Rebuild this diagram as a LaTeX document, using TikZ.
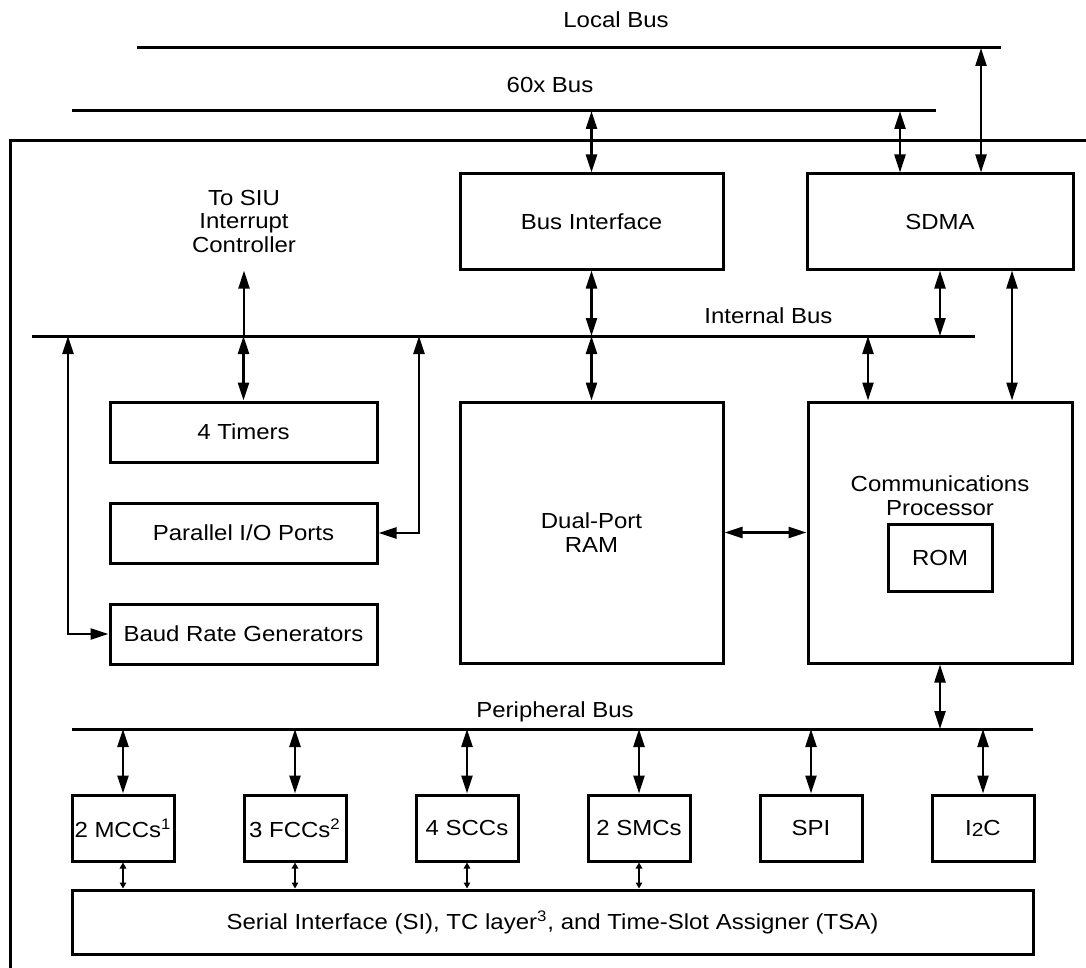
\documentclass[tikz,border=0pt]{standalone}
\usepackage{fontspec}
\setmainfont{Liberation Sans}[FakeStretch=1.1]
\usetikzlibrary{positioning,arrows.meta}
\tikzset{
  blk/.style={draw, line width=1.5pt, align=center, inner sep=0pt},
  bus/.style={line width=1.5pt},
  lbl/.style={align=center, inner sep=0pt},
  arr/.style={{Triangle[length=9pt,width=5.5pt]}-{Triangle[length=9pt,width=5.5pt]}, line width=1.15pt},
  uarr/.style={-{Triangle[length=9pt,width=5.5pt]}, line width=1.15pt},
  sarr/.style={{Triangle[length=3pt,width=3.2pt]}-{Triangle[length=3pt,width=3.2pt]}, line width=0.9pt},
}

\begin{document}
\begin{tikzpicture}[x=0.5pt, y=-0.5pt, font=\fontsize{10.9}{11.75}\selectfont]
  \useasboundingbox (0,0) rectangle (1086,968);

  % buses
  \coordinate (lb-w) at (137,48);  \coordinate (lb-e) at (1001,48);
  \coordinate (xb-w) at (72,111);  \coordinate (xb-e) at (936,111);
  \coordinate (ib-w) at (32,336);  \coordinate (ib-e) at (975,336);
  \coordinate (pb-w) at (72,729);  \coordinate (pb-e) at (1033,729);
  \draw[bus] (lb-w) -- (lb-e);
  \draw[bus] (xb-w) -- (xb-e);
  \draw[bus] (ib-w) -- (ib-e);
  \draw[bus] (pb-w) -- (pb-e);
  \node[lbl] (lbl-lb) at (616,20) {Local Bus};
  \node[lbl] (lbl-xb) at (550,85) {60x Bus};
  \node[lbl, anchor=base west] (lbl-ib) at (704,323) {Internal Bus};
  \node[lbl, anchor=base west] (lbl-pb) at (476,717) {Peripheral Bus};

  \draw[bus] (1086,141) -- (10,141) -- (10,968);

  \node[blk, minimum width=131.5pt, minimum height=47.5pt] (bi) at (591.5,221.5) {Bus Interface};
  \node[blk, minimum width=133pt, minimum height=47.5pt] (sdma) at (940,221.5) {SDMA};
  \node[lbl, inner ysep=9pt] (siu) at (244,221) {To SIU\\Interrupt\\Controller};

  \node[blk, minimum width=133.5pt, minimum height=30pt] (tmr) at (243.5,432) {4 Timers};
  \node[blk, minimum width=133.5pt, minimum height=30pt, below=19pt of tmr] (pio) {Parallel I/O Ports};
  \node[blk, minimum width=133.5pt, minimum height=30pt, below=19pt of pio] (brg) {Baud Rate Generators};

  \node[blk, minimum width=131.5pt, minimum height=130.5pt] (dpr) at (591.5,532.5) {Dual-Port\\RAM};
  \node[blk, minimum width=132pt, minimum height=130.5pt] (cp) at (940,532.5) {};
  \node[lbl] (cptxt) at (940,495.5) {Communications\\Processor};
  \node[blk, minimum width=52pt, minimum height=33.5pt] (rom) at (940,557.5) {ROM};

  \node[blk, minimum width=51pt, minimum height=33pt] (mcc) at (123,828) {2 MCCs\textsuperscript{1}};
  \node[blk, minimum width=51pt, minimum height=33pt, right=33.5pt of mcc] (fcc) {3 FCCs\textsuperscript{2}};
  \node[blk, minimum width=51pt, minimum height=33pt, right=33.5pt of fcc] (scc) {4 SCCs};
  \node[blk, minimum width=51pt, minimum height=33pt, right=33.5pt of scc] (smc) {2 SMCs};
  \node[blk, minimum width=51pt, minimum height=33pt, right=33.5pt of smc] (spi) {SPI};
  \node[blk, minimum width=51pt, minimum height=33pt, right=33.5pt of spi] (iic) {I\raisebox{-0.6pt}{\fontsize{9.5}{10}\selectfont 2}C};
  \node[blk, minimum width=480.5pt, minimum height=32pt] (si) at (552.5,922)
    {Serial Interface (SI), TC layer\textsuperscript{3}, and Time-Slot Assigner (TSA)};

  \draw[arr] (bi.north) -- (bi.north |- xb-w);
  \draw[arr] ([xshift=-20pt]sdma.north) -- ([xshift=-20pt]sdma.north |- xb-w);
  \draw[arr] ([xshift=20.5pt]sdma.north) -- ([xshift=20.5pt]sdma.north |- lb-w);
  \draw[arr] (bi.south) -- (bi.south |- ib-w);
  \draw[arr] (sdma.south) -- (sdma.south |- ib-w);
  \draw[arr] ([xshift=36pt]sdma.south) -- ([xshift=36pt]cp.north);
  \draw[arr] ([xshift=-36pt]cp.north) -- ([xshift=-36pt]cp.north |- ib-w);
  \draw[arr] (dpr.north) -- (dpr.north |- ib-w);
  \draw[uarr] (siu.south |- ib-w) -- (siu.south);
  \draw[arr] (tmr.north) -- (tmr.north |- ib-w);
  \coordinate (pio-up) at (419,336);
  \coordinate (brg-up) at (68,336);
  \draw[arr] (pio.east) -| (pio-up);
  \draw[arr] (brg.west) -| (brg-up);
  \draw[arr] (dpr.east) -- (cp.west);
  \draw[arr] (cp.south) -- (cp.south |- pb-w);

  \draw[arr] (mcc.north) -- (mcc.north |- pb-w);
  \draw[arr] (fcc.north) -- (fcc.north |- pb-w);
  \draw[arr] (scc.north) -- (scc.north |- pb-w);
  \draw[arr] (smc.north) -- (smc.north |- pb-w);
  \draw[arr] (spi.north) -- (spi.north |- pb-w);
  \draw[arr] (iic.north) -- (iic.north |- pb-w);
  \draw[sarr] (mcc.south) -- (mcc.south |- si.north);
  \draw[sarr] (fcc.south) -- (fcc.south |- si.north);
  \draw[sarr] (scc.south) -- (scc.south |- si.north);
  \draw[sarr] (smc.south) -- (smc.south |- si.north);
\end{tikzpicture}
\end{document}
